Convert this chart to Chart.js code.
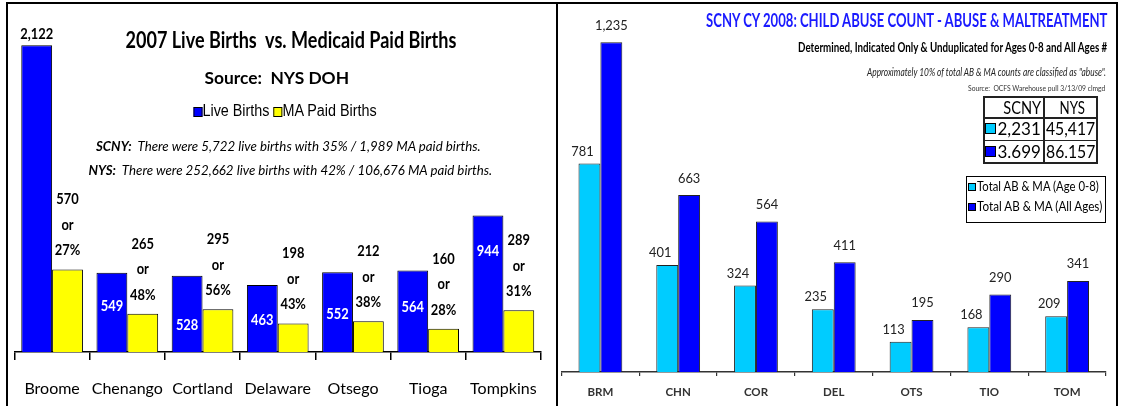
<!DOCTYPE html>
<html><head><meta charset="utf-8">
<script src="https://cdn.jsdelivr.net/npm/chart.js@4.4.1/dist/chart.umd.min.js"></script>
<style>
html,body{margin:0;padding:0;background:#fff;}
#stage{position:relative;width:1132px;height:406px;overflow:hidden;background:#fff;
  --n:'Liberation Sans',Arial,sans-serif;
  --c:Lato,'Carlito','Calibri','Liberation Sans',sans-serif;}
.frame{position:absolute;left:6px;top:2px;width:1108px;height:430px;border:2px solid #000;z-index:3;}
.divider{position:absolute;left:556px;top:2px;width:2px;height:420px;background:#000;z-index:3;}
canvas{position:absolute;top:0;}
.t{position:absolute;white-space:pre;display:inline-block;line-height:1.2;color:#000;z-index:4;font-family:var(--c);}
.sq{display:inline-block;width:10px;height:10px;border:1px solid #000;box-sizing:border-box;vertical-align:-1px;}
.box{position:absolute;box-sizing:border-box;z-index:4;}
</style>
</head><body>
<div id="stage">
  <canvas id="left" width="556" height="406" style="left:0;width:556px;height:406px"></canvas>
  <canvas id="right" width="559" height="406" style="left:558px;width:559px;height:406px"></canvas>
  <div class="frame"></div>
  <div class="divider"></div>

  <div class="t fit" data-cx="290.5" data-cy="40" data-w="331" style="font-weight:bold;font-size:23px">2007 Live Births  vs. Medicaid Paid Births</div>
  <div class="t fit" data-cx="276.5" data-cy="77" data-w="145" style="font-weight:bold;font-size:17.5px">Source:  NYS DOH</div>
  <div class="t fit" data-cx="284.5" data-cy="110" data-w="183" style="font-size:16px;font-family:var(--n)"><span class="sq" style="background:#0000ff"></span>Live Births <span class="sq" style="background:#ffff00"></span>MA Paid Births</div>
  <div class="t fit" data-cx="288.5" data-cy="146" data-w="385" style="font-style:italic;font-size:13.5px"><b>SCNY:</b>  There were 5,722 live births with 35% / 1,989 MA paid births.</div>
  <div class="t fit" data-cx="290" data-cy="170" data-w="404" style="font-style:italic;font-size:13.5px"><b>NYS:</b>  There were 252,662 live births with 42% / 106,676 MA paid births.</div>

  <div class="t fit" data-rx="1107" data-cy="21" data-w="401" style="font-weight:bold;font-size:18px;color:#1a1aff">SCNY CY 2008: CHILD ABUSE COUNT - ABUSE &amp; MALTREATMENT</div>
  <div class="t fit" data-rx="1107" data-cy="47" data-w="309" style="font-weight:bold;font-size:12.5px">Determined, Indicated Only &amp; Unduplicated for Ages 0-8 and All Ages #</div>
  <div class="t fit" data-rx="1106" data-cy="71" data-w="239" style="font-style:italic;font-size:11px;color:#222">Approximately 10% of total AB &amp; MA counts are classified as "abuse".</div>
  <div class="t fit" data-rx="1105" data-cy="88" data-w="137" style="font-size:7px;color:#333">Source:  OCFS Warehouse pull 3/13/09 clmgd</div>

  <div id="tableHost"></div>

  <div class="box" style="left:966px;top:176px;width:140px;height:47px;border:1px solid #000"></div>
  <div class="box" style="left:968px;top:183px;width:8px;height:8px;border:1px solid #000;background:#00ccff"></div>
  <div class="box" style="left:968px;top:203px;width:8px;height:8px;border:1px solid #000;background:#0000ff"></div>
  <div class="t fit" data-lx="977" data-cy="187.3" data-w="122" style="font-size:13px">Total AB &amp; MA (Age 0-8)</div>
  <div class="t fit" data-lx="977" data-cy="206.7" data-w="125.5" style="font-size:13px">Total AB &amp; MA (All Ages)</div>
</div>
<script>
// ---------- data ----------
const counties = ['Broome', 'Chenango', 'Cortland', 'Delaware', 'Otsego', 'Tioga', 'Tompkins'];
const liveBirths = [2122, 549, 528, 463, 552, 564, 944];
const maPaidBirths = [570, 265, 295, 198, 212, 160, 289];
const maPaidPct = [27, 48, 56, 43, 38, 28, 31];

const countyCodes = ['BRM', 'CHN', 'COR', 'DEL', 'OTS', 'TIO', 'TOM'];
const abuseAge0to8 = [781, 401, 324, 235, 113, 168, 209];
const abuseAllAges = [1235, 663, 564, 411, 195, 290, 341];

const tableHeader = ['SCNY', 'NYS'];
const totalsAge0to8 = ['2,231', '45,417'];
const totalsAllAges = ['3.699', '86.157'];

// ---------- styling ----------
const FONT = "Lato,'Carlito','Liberation Sans',sans-serif";
const BLUE = '#0000ff', YELLOW = '#ffff00', CYAN = '#00ccff';
const blueLabelDy = [-11, 34, 49, 35, 42, 37, 36];   // label placement relative to bar top
const fmt = v => v.toLocaleString('en-US');

function squeezeText(ctx, text, x, y, sx) {
  ctx.save();
  ctx.translate(x, y);
  ctx.scale(sx, 1);
  ctx.fillText(text, 0, 0);
  ctx.restore();
}

// table (built from the arrays)
(function buildTable(){
  const host = document.getElementById('tableHost');
  const parts = [];
  parts.push('<div class="box" style="left:983px;top:96px;width:115px;height:68px;border:2px solid #222"></div>');
  parts.push('<div class="box" style="left:1043px;top:96px;width:1.5px;height:68px;background:#222"></div>');
  parts.push('<div class="box" style="left:983px;top:117px;width:115px;height:1.5px;background:#222"></div>');
  parts.push('<div class="box" style="left:983px;top:139.5px;width:115px;height:1.5px;background:#222"></div>');
  parts.push(`<div class="t fit" data-rx="1040.7" data-cy="108.3" data-w="37.7" style="font-size:17px">${tableHeader[0]}</div>`);
  parts.push(`<div class="t fit" data-cx="1071.5" data-cy="108.3" data-w="25" style="font-size:17px">${tableHeader[1]}</div>`);
  parts.push('<div class="box" style="left:985px;top:123px;width:11px;height:11px;border:1px solid #000;background:' + CYAN + '"></div>');
  parts.push('<div class="box" style="left:985px;top:146px;width:11px;height:11px;border:1px solid #000;background:' + BLUE + '"></div>');
  parts.push(`<div class="t fit" data-rx="1040.5" data-cy="129" data-w="43" style="font-size:17px">${totalsAge0to8[0]}</div>`);
  parts.push(`<div class="t fit" data-cx="1070.5" data-cy="129" data-w="49" style="font-size:17px">${totalsAge0to8[1]}</div>`);
  parts.push(`<div class="t fit" data-rx="1040.5" data-cy="152" data-w="43" style="font-size:17px">${totalsAllAges[0]}</div>`);
  parts.push(`<div class="t fit" data-cx="1070.5" data-cy="152" data-w="49" style="font-size:17px">${totalsAllAges[1]}</div>`);
  host.innerHTML = parts.join('');
})();

function fitAll(){
  document.querySelectorAll('.fit').forEach(el => {
    el.style.transform = 'none';
    const nat = el.offsetWidth, h = el.offsetHeight, d = el.dataset;
    const s = parseFloat(d.w) / nat, cy = parseFloat(d.cy);
    let left, origin;
    if (d.cx) { left = parseFloat(d.cx) - nat / 2; origin = '50% 50%'; }
    else if (d.rx) { left = parseFloat(d.rx) - nat; origin = '100% 50%'; }
    else { left = parseFloat(d.lx); origin = '0 50%'; }
    el.style.left = left + 'px';
    el.style.top = (cy - h / 2) + 'px';
    el.style.transformOrigin = origin;
    el.style.transform = 'scaleX(' + s + ')';
  });
}
fitAll();
if (document.fonts && document.fonts.ready) document.fonts.ready.then(fitAll);

// ---------- left chart ----------
const leftLabels = {
  id: 'leftLabels',
  afterDatasetsDraw(chart) {
    const ctx = chart.ctx;
    ctx.save();
    ctx.textAlign = 'center';
    ctx.textBaseline = 'middle';
    ctx.font = 'bold 15px ' + FONT;
    chart.getDatasetMeta(0).data.forEach((bar, i) => {
      const dy = blueLabelDy[i];
      ctx.fillStyle = dy < 0 ? '#000' : '#ffffff';
      squeezeText(ctx, fmt(liveBirths[i]), bar.x, bar.y + dy, 0.86);
    });
    ctx.fillStyle = '#000';
    chart.getDatasetMeta(1).data.forEach((bar, i) => {
      squeezeText(ctx, fmt(maPaidBirths[i]), bar.x, bar.y - 70, 0.86);
      squeezeText(ctx, 'or', bar.x, bar.y - 44.5, 0.86);
      squeezeText(ctx, maPaidPct[i] + '%', bar.x, bar.y - 19, 0.86);
    });
    ctx.restore();
  }
};

new Chart(document.getElementById('left').getContext('2d'), {
  type: 'bar',
  data: {
    labels: counties,
    datasets: [
      { label: 'Live Births', data: liveBirths, backgroundColor: BLUE, borderColor: '#000', borderWidth: 1,
        barPercentage: 1, categoryPercentage: 0.82 },
      { label: 'MA Paid Births', data: maPaidBirths, backgroundColor: YELLOW, borderColor: '#000', borderWidth: 1,
        barPercentage: 1, categoryPercentage: 0.82 }
    ]
  },
  options: {
    responsive: false, animation: false, devicePixelRatio: 1,
    layout: { padding: { left: 14.5, right: 5, top: 34, bottom: 0 } },
    plugins: { legend: { display: false }, tooltip: { enabled: false } },
    scales: {
      x: {
        offset: true,
        grid: { display: true, drawOnChartArea: false, drawTicks: true, tickLength: 8, color: '#000', lineWidth: 1.5, offset: true },
        border: { display: true, color: '#000', width: 1.5 },
        ticks: { color: '#000', font: { family: FONT, size: 16 }, padding: 19, maxRotation: 0, autoSkip: false },
        afterFit: s => { s.height = 54; }
      },
      y: { display: false, min: 0, max: 2200 }
    }
  },
  plugins: [leftLabels]
});

// ---------- right chart ----------
const rightLabels = {
  id: 'rightLabels',
  afterDatasetsDraw(chart) {
    const ctx = chart.ctx;
    ctx.save();
    ctx.textAlign = 'center';
    ctx.textBaseline = 'middle';
    ctx.font = '14px ' + FONT;
    ctx.fillStyle = '#222';
    chart.getDatasetMeta(0).data.forEach((bar, i) => {
      squeezeText(ctx, fmt(abuseAge0to8[i]), bar.x - 7, bar.y - 12.5, 0.92);
    });
    chart.getDatasetMeta(1).data.forEach((bar, i) => {
      squeezeText(ctx, fmt(abuseAllAges[i]), bar.x, bar.y - 17, 0.92);
    });
    ctx.restore();
  }
};

new Chart(document.getElementById('right').getContext('2d'), {
  type: 'bar',
  data: {
    labels: countyCodes,
    datasets: [
      { label: 'Total AB & MA (Age 0-8)', data: abuseAge0to8, backgroundColor: CYAN, borderColor: '#222', borderWidth: 1,
        barPercentage: 1, categoryPercentage: 0.563 },
      { label: 'Total AB & MA (All Ages)', data: abuseAllAges, backgroundColor: BLUE, borderColor: '#222', borderWidth: 1,
        barPercentage: 1, categoryPercentage: 0.563 }
    ]
  },
  options: {
    responsive: false, animation: false, devicePixelRatio: 1,
    layout: { padding: { left: 3.5, right: 11, top: 25, bottom: 0 } },
    plugins: { legend: { display: false }, tooltip: { enabled: false } },
    scales: {
      x: {
        offset: true,
        grid: { display: true, drawOnChartArea: false, drawTicks: true, tickLength: 4, color: '#333', lineWidth: 1.2, offset: true },
        border: { display: true, color: '#333', width: 1.5 },
        ticks: { color: '#333', font: { family: FONT, size: 11.5, weight: 'bold' }, padding: 9, maxRotation: 0, autoSkip: false },
        afterFit: s => { s.height = 34; }
      },
      y: { display: false, min: 0, max: 1300 }
    }
  },
  plugins: [rightLabels]
});
</script>
</body></html>
